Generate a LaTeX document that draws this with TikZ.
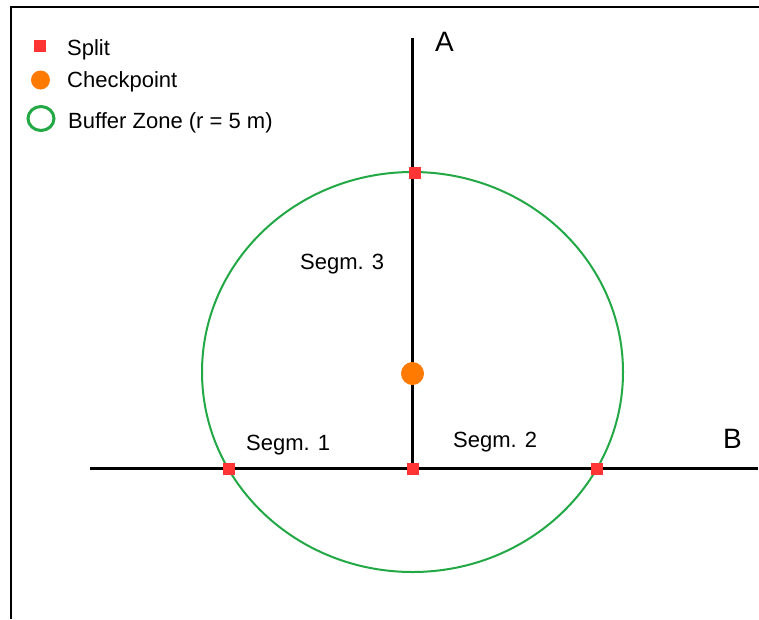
\documentclass[tikz,border=0pt]{standalone}
\usepackage{fontspec}
\setmainfont{Liberation Sans}
\definecolor{splitred}{HTML}{FF3535}
\definecolor{chkorange}{HTML}{FF7A00}
\definecolor{bufgreen}{HTML}{22A845}
\begin{document}
\begin{tikzpicture}[x=1pt,y=-1pt,
  road/.style={line width=3pt,black},
  splitbox/.style={fill=splitred,draw=none,minimum size=12pt,inner sep=0pt,outer sep=0pt},
  chkdot/.style={fill=chkorange,draw=none,circle,minimum size=23pt,inner sep=0pt},
  lbl/.style={font=\fontsize{22}{26}\selectfont,inner sep=0pt,anchor=base west},
  biglbl/.style={font=\fontsize{28}{32}\selectfont,inner sep=0pt,anchor=base west}]
\useasboundingbox (0,0) rectangle (759,619);
\fill[white] (0,0) rectangle (759,619);
% frame
\draw[line width=2pt] (11,619) -- (11,6.5) -- (759,6.5);
% roads
\coordinate (Atop) at (412.5,38);
\coordinate (Bleft) at (90,468);
\coordinate (Bright) at (758,468);
\coordinate (X) at (412.5,468);
\draw[road] (Atop) -- (X);
\draw[road] (Bleft) -- (Bright);
% buffer zone
\draw[bufgreen,line width=2pt] (412.5,372) ellipse [x radius=210.5,y radius=200];
% checkpoint
\node[chkdot] (chk) at (412.5,373.5) {};
% splits
\node[splitbox] (s1) at (229,468.5) {};
\node[splitbox] (s0) at (413,468.5) {};
\node[splitbox] (s2) at (597,468.5) {};
\node[splitbox] (s3) at (414.5,172.5) {};
% labels
\node[biglbl] (A) at (435,51) {A};
\node[biglbl] (B) at (723,448) {B};
\node[lbl] (seg3) at (300,269) {Segm. 3};
\node[lbl] (seg1) at (246,450) {Segm. 1};
\node[lbl] (seg2) at (453,447) {Segm. 2};
% legend
\node[splitbox] (lg1) at (39.5,46) {};
\node[lbl] (lt1) at (67,55) {Split};
\node[chkdot,minimum size=19pt] (lg2) at (40.5,80) {};
\node[lbl] (lt2) at (67,87) {Checkpoint};
\draw[bufgreen,line width=3pt] (41,118.5) ellipse [x radius=13,y radius=12];
\node[lbl] (lt3) at (68,128) {Buffer Zone (r = 5 m)};
\end{tikzpicture}
\end{document}
